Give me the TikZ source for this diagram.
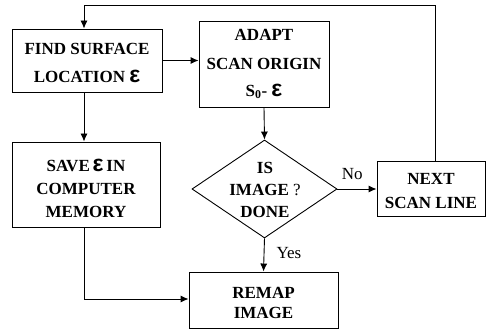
\documentclass[tikz,border=0pt]{standalone}
\usepackage{fontspec}
\setmainfont{Liberation Serif}
\newfontfamily\epsfont{Liberation Sans}
\usetikzlibrary{shapes.geometric,arrows.meta}
\newcommand{\epsy}{{\epsfont\bfseries\fontsize{23}{23}\selectfont ε}}
\newcommand{\lift}[1]{\rule{0pt}{#1pt}}
\tikzset{
  box/.style={draw, line width=0.9pt, align=center, inner sep=0pt,
    font=\bfseries\fontsize{17}{24}\selectfont},
  dia/.style={draw, line width=0.9pt, shape=diamond, inner sep=0pt},
  diatext/.style={align=center, inner sep=0pt, font=\bfseries\fontsize{17}{22}\selectfont},
  conn/.style={line width=0.9pt, -{Latex[length=8pt,width=7pt]}},
  lbl/.style={font=\fontsize{17}{17}\selectfont, inner sep=0pt}
}
\begin{document}
\begin{tikzpicture}[x=1pt,y=-1pt]
\useasboundingbox (0,0) rectangle (491,329);
\node[box, minimum width=150pt, minimum height=63pt] (find) at (87,60.5) {\lift{16}FIND SURFACE\\[4pt]LOCATION \epsy};
\node[box, minimum width=130pt, minimum height=86pt] (adapt) at (264,64) {ADAPT\\[5pt]SCAN ORIGIN\\[3pt]S\textsubscript{0}- \epsy};
\node[box, minimum width=148pt, minimum height=85pt] (save) at (86,184.5) {\lift{21}SAVE\,\epsy\,IN\\[-1pt]COMPUTER\\[-1pt]MEMORY};
\node[dia, minimum width=145pt, minimum height=98pt] (done) at (264.5,189) {};
\node[diatext] (donetxt) at (265,190) {IS\\IMAGE {\mdseries ?}\\DONE};
\node[box, minimum width=108pt, minimum height=55pt] (next) at (431,188.5) {\lift{17}NEXT\\SCAN LINE};
\node[box, minimum width=149pt, minimum height=56pt, font=\bfseries\fontsize{17}{20}\selectfont] (remap) at (263.5,300) {\lift{17}REMAP\\IMAGE};
\coordinate (ltop) at (84,5);
\coordinate (rtop) at (435,5);
\coordinate (sdown) at (84,299);
\draw[conn] (find.east) -- (adapt.west |- find.east);
\draw[conn] (find.south -| ltop) -- (save.north -| ltop);
\draw[conn] (adapt.south) -- (done.north);
\draw[conn] (done.east) -- (next.west |- done.east) node[lbl, pos=0.38, above=9pt] {No};
\draw[conn] (done.south) -- (remap.north) node[lbl, pos=0.45, right=12pt] {Yes};
\draw[conn] (save.south -| sdown) -- (sdown) -- (remap.west |- sdown);
\draw[conn] (next.north -| rtop) -- (rtop) -- (ltop) -- (find.north -| ltop);
\end{tikzpicture}
\end{document}
